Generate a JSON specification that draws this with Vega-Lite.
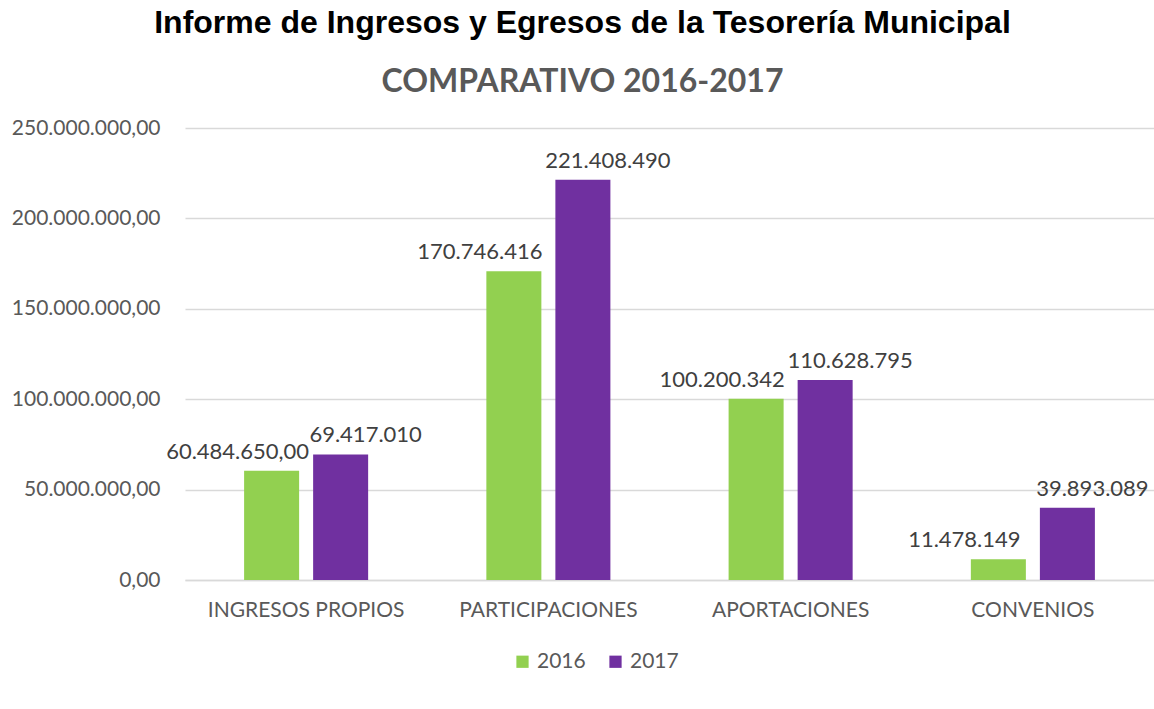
{
  "$schema": "https://vega.github.io/schema/vega-lite/v6.json",
  "autosize": {"type": "none"},
  "padding": {"left": 185, "top": 128, "right": 0, "bottom": 129},
  "width": 969,
  "height": 452,
  "background": "white",
  "config": {
    "locale": {"number": {"decimal": ",", "thousands": ".", "grouping": [3], "currency": ["$", ""]}},
    "view": {"stroke": null},
    "font": "Lato"
  },
  "title": {
    "text": "Informe de Ingresos y Egresos de la Tesorería Municipal",
    "subtitle": "COMPARATIVO 2016-2017",
    "anchor": "middle",
    "frame": "group",
    "dx": -87,
    "font": "Liberation Sans",
    "fontSize": 32,
    "fontWeight": "bold",
    "color": "#000000",
    "subtitleFont": "Lato",
    "subtitleFontSize": 32,
    "subtitleFontWeight": "bold",
    "subtitleColor": "#595959",
    "subtitlePadding": 27,
    "offset": 18
  },
  "data": {
    "values": [
      {"categoria": "INGRESOS PROPIOS", "anio": "2016", "monto": 60484650, "etiqueta": "60.484.650,00"},
      {"categoria": "INGRESOS PROPIOS", "anio": "2017", "monto": 69417010, "etiqueta": "69.417.010"},
      {"categoria": "PARTICIPACIONES", "anio": "2016", "monto": 170746416, "etiqueta": "170.746.416"},
      {"categoria": "PARTICIPACIONES", "anio": "2017", "monto": 221408490, "etiqueta": "221.408.490"},
      {"categoria": "APORTACIONES", "anio": "2016", "monto": 100200342, "etiqueta": "100.200.342"},
      {"categoria": "APORTACIONES", "anio": "2017", "monto": 110628795, "etiqueta": "110.628.795"},
      {"categoria": "CONVENIOS", "anio": "2016", "monto": 11478149, "etiqueta": "11.478.149"},
      {"categoria": "CONVENIOS", "anio": "2017", "monto": 39893089, "etiqueta": "39.893.089"}
    ]
  },
  "encoding": {
    "x": {
      "field": "categoria",
      "type": "nominal",
      "sort": ["INGRESOS PROPIOS", "PARTICIPACIONES", "APORTACIONES", "CONVENIOS"],
      "scale": {"paddingInner": 0.488, "paddingOuter": 0.244},
      "axis": {
        "title": null,
        "labelAngle": 0,
        "labelFont": "Lato",
        "labelFontSize": 21,
        "labelColor": "#595959",
        "labelPadding": 19,
        "labelLimit": 400,
        "ticks": false,
        "domainColor": "#d9d9d9",
        "domainWidth": 1.5
      }
    },
    "xOffset": {
      "field": "anio",
      "type": "nominal",
      "scale": {"paddingInner": 0.203, "paddingOuter": 0}
    },
    "y": {
      "field": "monto",
      "type": "quantitative",
      "scale": {"domain": [0, 250000000], "nice": false},
      "axis": {
        "title": null,
        "values": [0, 50000000, 100000000, 150000000, 200000000, 250000000],
        "format": ",.2f",
        "labelFont": "Lato",
        "labelFontSize": 21,
        "labelColor": "#595959",
        "labelPadding": 25,
        "ticks": false,
        "domain": false,
        "gridColor": "#d9d9d9",
        "gridWidth": 1.5
      }
    }
  },
  "layer": [
    {
      "mark": {"type": "bar"},
      "encoding": {
        "color": {
          "field": "anio",
          "type": "nominal",
          "scale": {"domain": ["2016", "2017"], "range": ["#92D050", "#7030A0"]},
          "legend": {
            "title": null,
            "orient": "none",
            "legendX": 327,
            "legendY": 523,
            "direction": "horizontal",
            "symbolType": "square",
            "symbolSize": 150,
            "symbolStrokeWidth": 0,
            "labelOffset": 4,
            "labelFont": "Lato",
            "labelFontSize": 21,
            "labelColor": "#595959",
            "columnPadding": 19
          }
        }
      }
    },
    {
      "transform": [{"filter": "datum.anio === '2016'"}],
      "mark": {"type": "text", "baseline": "bottom", "dy": -7, "dx": -34, "fontSize": 22, "color": "#404040", "font": "Lato"},
      "encoding": {"text": {"field": "etiqueta"}}
    },
    {
      "transform": [{"filter": "datum.anio === '2017'"}],
      "mark": {"type": "text", "baseline": "bottom", "dy": -7, "dx": 25, "fontSize": 22, "color": "#404040", "font": "Lato"},
      "encoding": {"text": {"field": "etiqueta"}}
    }
  ]
}
